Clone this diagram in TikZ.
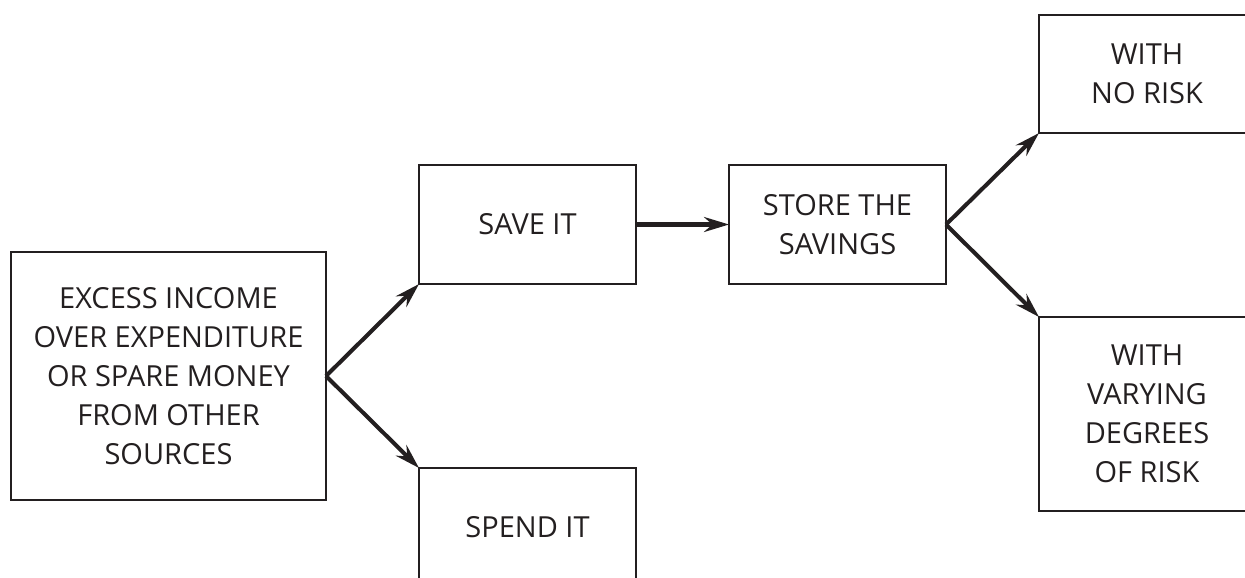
\documentclass[tikz,border=0pt]{standalone}
\usepackage{fontspec}
\setmainfont{Open Sans}
\usetikzlibrary{arrows.meta}
\definecolor{ink}{HTML}{231F20}
\begin{document}
\begin{tikzpicture}[box/.style={draw=ink, line width=1.5pt, align=center, text=ink, font=\fontsize{16.5}{22.2}\selectfont, inner sep=0pt, outer sep=0pt, minimum width=4.34cm, minimum height=2.38cm},
    flow/.style={draw=ink, line width=2.3pt, -{Stealth[length=0.5cm, width=0.3cm, inset=0.17cm]}}]
    \useasboundingbox (0,0) rectangle (24.9,-11.54);
    \node[box, minimum width=6.3cm, minimum height=4.96cm] (src) at (3.37,-7.52) {EXCESS INCOME\\OVER EXPENDITURE\\OR SPARE MONEY\\FROM OTHER\\SOURCES};
    \node[box] (save) at (10.55,-4.49) {SAVE IT};
    \node[box] (spend) at (10.55,-10.55) {SPEND IT};
    \node[box] (store) at (16.75,-4.49) {STORE THE\\SAVINGS};
    \node[box, minimum width=4.32cm, minimum height=2.36cm] (safe) at (22.94,-1.48) {WITH\\NO RISK};
    \node[box, minimum width=4.32cm, minimum height=3.88cm] (risky) at (22.94,-8.28) {WITH\\VARYING\\DEGREES\\OF RISK};
    \draw[flow] (src.east) -- (save.south west);
    \draw[flow] (src.east) -- (spend.north west);
    \draw[flow] (save) -- (store);
    \draw[flow] (store.east) -- (safe.south west);
    \draw[flow] (store.east) -- (risky.north west);
  \end{tikzpicture}
\end{document}
